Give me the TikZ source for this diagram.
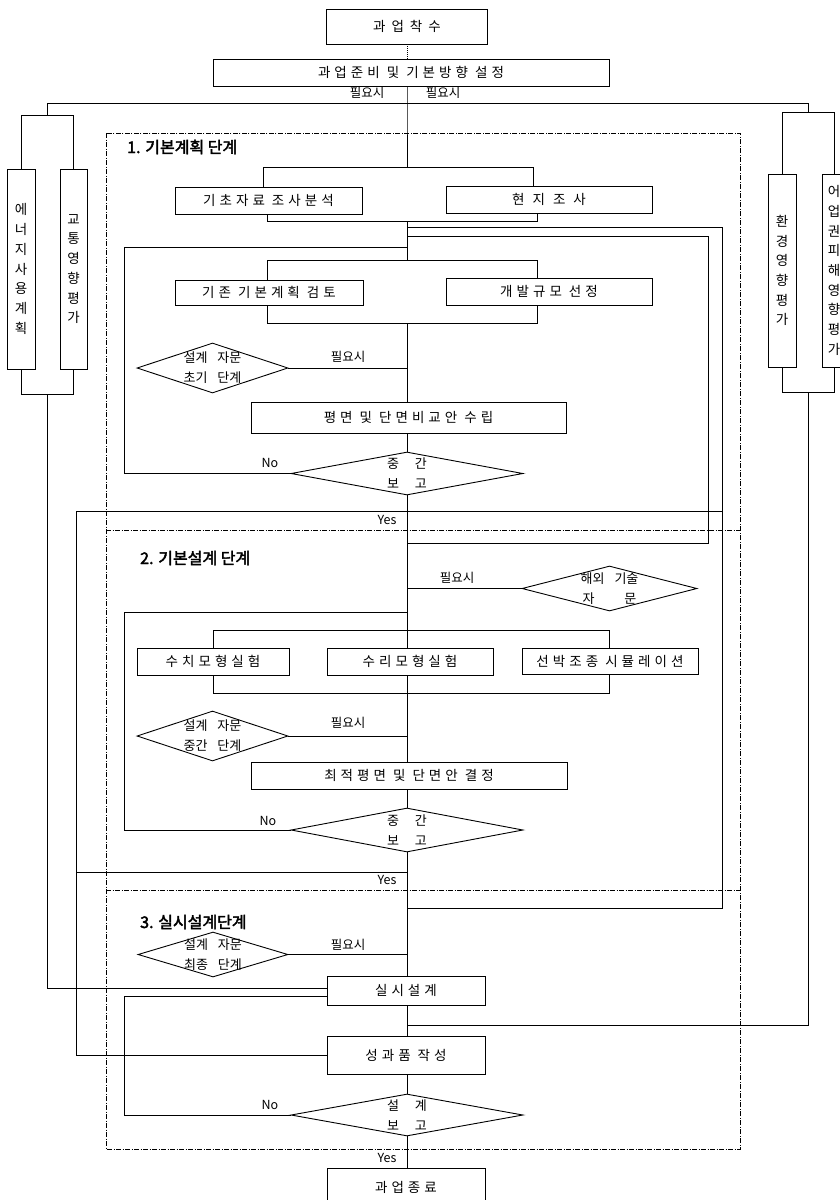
\documentclass[tikz,border=0pt]{standalone}
\usepackage{fontspec}
\setmainfont[AutoFakeBold=2.5]{Noto Sans CJK KR}
\newfontfamily\krs[LetterSpace=30]{Noto Sans CJK KR}
\newcommand\gp{\hspace{7pt}}
\usetikzlibrary{shapes.geometric}
\tikzset{
  ln/.style={line width=0.9pt},
  box/.style={draw, line width=0.9pt, rectangle, inner sep=0pt, font=\krs\fontsize{13.5}{16}\selectfont},
  vbox/.style={draw, line width=0.9pt, rectangle, inner sep=0pt, align=center, font=\fontsize{13.5}{19.7}\selectfont},
  dia/.style={draw, diamond, line width=0.9pt, inner sep=0pt},
  dtext/.style={align=center, inner sep=0pt, font=\fontsize{13}{20}\selectfont},
  lbl/.style={inner sep=0pt, font=\fontsize{12.5}{14}\selectfont},
  head/.style={inner sep=0pt, anchor=west, font=\fontsize{16}{19}\selectfont\bfseries},
  frame/.style={line width=0.7pt, dash pattern=on 5pt off 1.5pt on 1pt off 1.5pt},
}
\begin{document}
\begin{tikzpicture}[x=1pt,y=-1pt]
\useasboundingbox (0,0) rectangle (840,1200);
\clip (0,0) rectangle (840,1200);
\fill[white] (0,0) rectangle (840,1200);

% phase frames
\draw[frame] (106,133) rectangle (740,1149);
\draw[frame] (106,530) -- (740,530);
\draw[frame] (106,890) -- (740,890);

% headings
\node[head] (h1) at (127,147) {1. 기본계획 단계};
\node[head] (h2) at (140,558) {2. 기본설계 단계};
\node[head] (h3) at (140,922) {3. 실시설계단계};

% main boxes
\node[box, minimum width=161, minimum height=35] (b1) at (407,26.5) {과\hspace{6pt}업\hspace{6pt}착\hspace{6pt}수};
\node[box, minimum width=396, minimum height=27] (b2) at (411,72.5) {과업준비\gp 및\gp 기본방향\gp 설정};
\node[box, minimum width=187, minimum height=27] (s1) at (268.5,200.5) {기초자료\gp 조사분석};
\node[box, minimum width=206, minimum height=27] (s2) at (549,199.5) {현\hspace{8pt}지\hspace{8pt}조\hspace{8pt}사};
\node[box, minimum width=188, minimum height=25] (s3) at (269,292.5) {기존\gp 기본계획\gp 검토};
\node[box, minimum width=206, minimum height=27] (s4) at (549,291.5) {개발규모\gp 선정};
\node[box, minimum width=315, minimum height=31] (s5) at (408.5,417.5) {평면\gp 및\gp 단면비교안\gp 수립};
\node[box, minimum width=152, minimum height=27] (s6) at (213,661.5) {수치모형실험};
\node[box, minimum width=166, minimum height=27] (s7) at (410,661.5) {수리모형실험};
\node[box, minimum width=176, minimum height=26] (s8) at (610,661) {선박조종\gp 시뮬레이션};
\node[box, minimum width=316, minimum height=27] (s9) at (409,775.5) {최적평면\gp 및\gp 단면안\gp 결정};
\node[box, minimum width=158, minimum height=29] (s10) at (406,990.5) {실\hspace{4pt}시\hspace{4pt}설\hspace{4pt}계};
\node[box, minimum width=158, minimum height=38] (s11) at (406,1055) {성과품\gp 작성};
\node[box, minimum width=158, minimum height=38] (s12) at (406,1187) {과\hspace{4pt}업\hspace{4pt}종\hspace{4pt}료};

% diamonds
\node[dia, minimum width=151, minimum height=50] (d1) at (212.5,368) {};
\node[dtext] (d1t) at (d1) {설계\hspace{10pt}자문\\초기\hspace{10pt}단계};
\node[dia, minimum width=232, minimum height=43] (d2) at (407,473.5) {};
\node[dtext] (d2t) at (d2) {중\hspace{16pt}간\\보\hspace{16pt}고};
\node[dia, minimum width=175, minimum height=45] (d3) at (609.5,588.5) {};
\node[dtext] (d3t) at (d3) {해외\hspace{10pt}기술\\자\hspace{30pt}문};
\node[dia, minimum width=151, minimum height=50] (d4) at (212.5,736) {};
\node[dtext] (d4t) at (d4) {설계\hspace{10pt}자문\\중간\hspace{10pt}단계};
\node[dia, minimum width=232, minimum height=44] (d5) at (407,830) {};
\node[dtext] (d5t) at (d5) {중\hspace{16pt}간\\보\hspace{16pt}고};
\node[dia, minimum width=150, minimum height=45] (d6) at (213,954.5) {};
\node[dtext] (d6t) at (d6) {설계\hspace{10pt}자문\\최종\hspace{10pt}단계};
\node[dia, minimum width=232, minimum height=42] (d7) at (407,1115) {};
\node[dtext] (d7t) at (d7) {설\hspace{16pt}계\\보\hspace{16pt}고};

% side boxes
\node[vbox, minimum width=28, minimum height=200] (e1) at (21,269) {에\\너\\지\\사\\용\\계\\획};
\node[vbox, minimum width=27, minimum height=200] (e2) at (73.5,269) {교\\통\\영\\향\\평\\가};
\node[vbox, minimum width=28, minimum height=193] (e3) at (782,270.5) {환\\경\\영\\향\\평\\가};
\node[vbox, minimum width=24, minimum height=193] (e4) at (834,270.5) {어\\업\\권\\피\\해\\영\\향\\평\\가};

% labels
\node[lbl] (n0a) at (367,93) {필요시};
\node[lbl] (n0b) at (443,93) {필요시};
\node[lbl] (n1) at (348,357) {필요시};
\node[lbl] (n2) at (457,578) {필요시};
\node[lbl] (n3) at (348,723) {필요시};
\node[lbl] (n4) at (348,945) {필요시};
\node[lbl] (no1) at (270,463) {No};
\node[lbl] (no2) at (268,821) {No};
\node[lbl] (no3) at (270,1105) {No};
\node[lbl] (y1) at (387,520) {Yes};
\node[lbl] (y2) at (387,880) {Yes};
\node[lbl] (y3) at (387,1158) {Yes};

% coordinates
\coordinate (C) at (407,0);
\coordinate (jtop) at (407,103);
\coordinate (lt1) at (47,103);
\coordinate (lt2) at (47,115);
\coordinate (rt1) at (808,103);
\coordinate (rt2) at (808,112);
\coordinate (lb) at (47,394);
\coordinate (lb2) at (47,988);
\coordinate (rb) at (808,392);
\coordinate (rb2) at (808,1025);
\coordinate (t1L) at (263,167);
\coordinate (t1R) at (533,167);
\coordinate (u1L) at (267,221);
\coordinate (u1R) at (537,221);
\coordinate (t2L) at (267,260);
\coordinate (t2R) at (537,260);
\coordinate (u2L) at (267,323);
\coordinate (u2R) at (537,323);
\coordinate (t3L) at (213,630);
\coordinate (t3R) at (609,630);
\coordinate (u3L) at (213,693);
\coordinate (u3R) at (609,693);
\coordinate (r227) at (722,227);
\coordinate (r908) at (722,908);
\coordinate (r236) at (708,236);
\coordinate (r543) at (708,543);
\coordinate (L1a) at (124,247);
\coordinate (L2a) at (124,612);
\coordinate (L3a) at (124,996);
\coordinate (Y1L) at (76,511);
\coordinate (Y1R) at (722,511);
\coordinate (Y2L) at (76,872);

% top connectors
\draw[ln, densely dotted] (C |- b1.south) -- (C |- b2.north);
\draw[ln] (C |- b2.south) -- (jtop) -- (C |- t1L);
\draw[ln] (jtop) -- (lt1) -- (lt2);
\draw[ln] (e1.north |- lt2) -- (e2.north |- lt2);
\draw[ln] (e1.north |- lt2) -- (e1.north);
\draw[ln] (e2.north |- lt2) -- (e2.north);
\draw[ln] (jtop) -- (rt1) -- (rt2);
\draw[ln] (e3.north |- rt2) -- (e4.north |- rt2);
\draw[ln] (e3.north |- rt2) -- (e3.north);
\draw[ln] (e4.north |- rt2) -- (e4.north);
\draw[ln] (e1.south) -- (e1.south |- lb) -- (e2.south |- lb) -- (e2.south);
\draw[ln] (lb) -- (lb2) -- (lb2 -| s10.west);
\draw[ln] (e3.south) -- (e3.south |- rb) -- (e4.south |- rb) -- (e4.south);
\draw[ln] (rb) -- (rb2) -- (C |- rb2);

% phase 1
\draw[ln] (t1L) -- (t1R);
\draw[ln] (t1L) -- (t1L |- s1.north);
\draw[ln] (t1R) -- (t1R |- s2.north);
\draw[ln] (u1L |- s1.south) -- (u1L) -- (u1R) -- (u1R |- s2.south);
\draw[ln] (C |- u1L) -- (C |- t2L);
\draw[ln] (t2L) -- (t2R);
\draw[ln] (t2L) -- (t2L |- s3.north);
\draw[ln] (t2R) -- (t2R |- s4.north);
\draw[ln] (u2L |- s3.south) -- (u2L) -- (u2R) -- (u2R |- s4.south);
\draw[ln] (C |- u2L) -- (C |- s5.north);
\draw[ln] (d1.east) -- (C |- d1.east);
\draw[ln] (C |- s5.south) -- (d2.north);
\draw[ln] (d2.west) -- (d2.west -| L1a) -- (L1a) -- (C |- L1a);
\draw[ln] (C |- r227) -- (r227) -- (r908) -- (C |- r908);
\draw[ln] (C |- r236) -- (r236) -- (r543) -- (C |- r543);
\draw[ln] (Y1L) -- (Y1R);
\draw[ln] (Y1L) -- (Y1L |- s11.west) -- (s11.west);
\draw[ln] (Y2L) -- (C |- Y2L);

% phase 2
\draw[ln] (d2.south) -- (C |- t3L);
\draw[ln] (d3.west) -- (C |- d3.west);
\draw[ln] (d5.west) -- (d5.west -| L2a) -- (L2a) -- (C |- L2a);
\draw[ln] (t3L) -- (t3R);
\draw[ln] (t3L) -- (t3L |- s6.north);
\draw[ln] (t3R) -- (t3R |- s8.north);
\draw[ln] (C |- t3L) -- (C |- s7.north);
\draw[ln] (u3L |- s6.south) -- (u3L) -- (u3R) -- (u3R |- s8.south);
\draw[ln] (C |- s7.south) -- (C |- s9.north);
\draw[ln] (d4.east) -- (C |- d4.east);
\draw[ln] (C |- s9.south) -- (d5.north);

% phase 3
\draw[ln] (d5.south) -- (C |- s10.north);
\draw[ln] (d6.east) -- (C |- d6.east);
\draw[ln] (C |- s10.south) -- (C |- s11.north);
\draw[ln] (C |- s11.south) -- (d7.north);
\draw[ln] (d7.west) -- (d7.west -| L3a) -- (L3a) -- (L3a -| s10.west);
\draw[ln] (d7.south) -- (C |- s12.north);
\end{tikzpicture}
\end{document}
